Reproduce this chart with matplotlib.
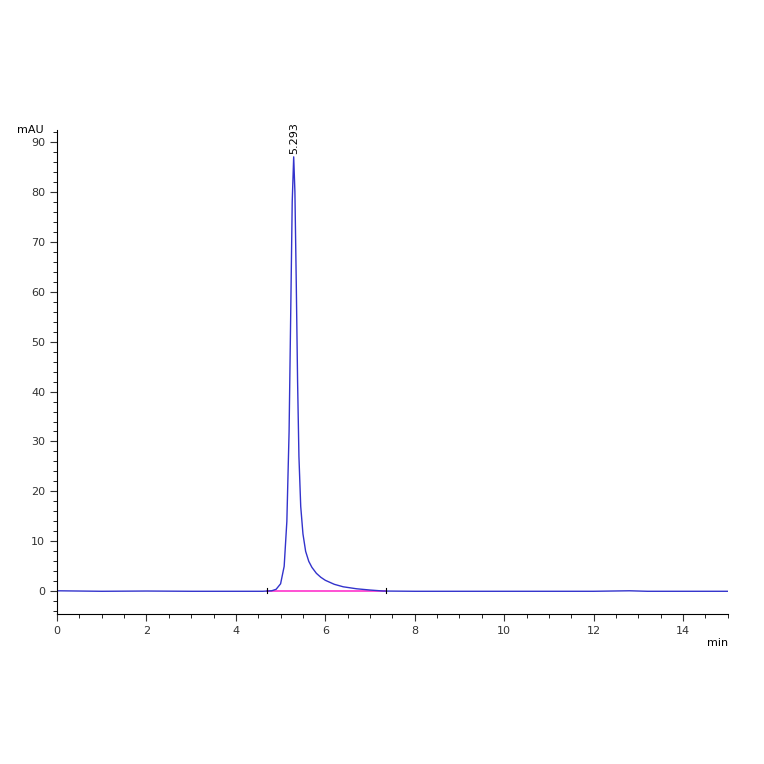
import matplotlib
matplotlib.use("Agg")
import matplotlib.pyplot as plt
from matplotlib.ticker import MultipleLocator

times = [0, 1.0, 2.0, 3.0, 4.0, 4.6, 4.8, 4.9, 5.0, 5.08, 5.14, 5.19, 5.23, 5.26, 5.293, 5.32, 5.35, 5.38, 5.41, 5.45, 5.5, 5.56, 5.63, 5.7, 5.8, 5.9, 6.0, 6.2, 6.4, 6.7, 7.0, 7.3, 8, 10, 12, 12.8, 13.2, 14, 15]
signal = [0.1, 0.0, 0.05, 0.0, 0.0, 0.0, 0.1, 0.4, 1.5, 5, 14, 32, 58, 78, 87, 80, 62, 42, 27, 17, 11.5, 8, 6, 4.8, 3.6, 2.8, 2.2, 1.4, 0.9, 0.5, 0.25, 0.05, 0.0, 0.0, 0.0, 0.1, 0.0, 0.0, 0.0]
base_t = [4.7, 7.35]
base_v = [0.0, 0.0]
peak_label = "5.293"

fig = plt.figure(figsize=(7.64, 7.64), dpi=100)
ax = fig.add_axes([0.0746, 0.196, 0.878, 0.634])
ax.plot(base_t, base_v, color="#ff33cc", lw=1.2)
ax.plot(times, signal, color="#3333cc", lw=1.0)
for t in base_t:
    ax.plot([t, t], [-0.4, 0.6], color="black", lw=0.8)
ax.set_xlim(0, 15)
ax.set_ylim(-4.6, 92.4)
for s in ["top", "right"]:
    ax.spines[s].set_visible(False)
ax.spines["left"].set_position(("data", 0))
ax.xaxis.set_major_locator(MultipleLocator(2))
ax.xaxis.set_minor_locator(MultipleLocator(0.5))
ax.yaxis.set_major_locator(MultipleLocator(10))
ax.yaxis.set_minor_locator(MultipleLocator(2))
ax.tick_params(labelsize=8, colors="#333333", length=5)
ax.tick_params(which="minor", length=3)
ax.text(-0.02, 1.0, "mAU", transform=ax.transAxes, ha="right", va="center", fontsize=8)
ax.text(1.0, -0.06, "min", transform=ax.transAxes, ha="right", va="center", fontsize=8)
ax.text(5.293, 87.5, peak_label, rotation=90, ha="center", va="bottom", fontsize=8)
fig.savefig("out.png", dpi=100)
